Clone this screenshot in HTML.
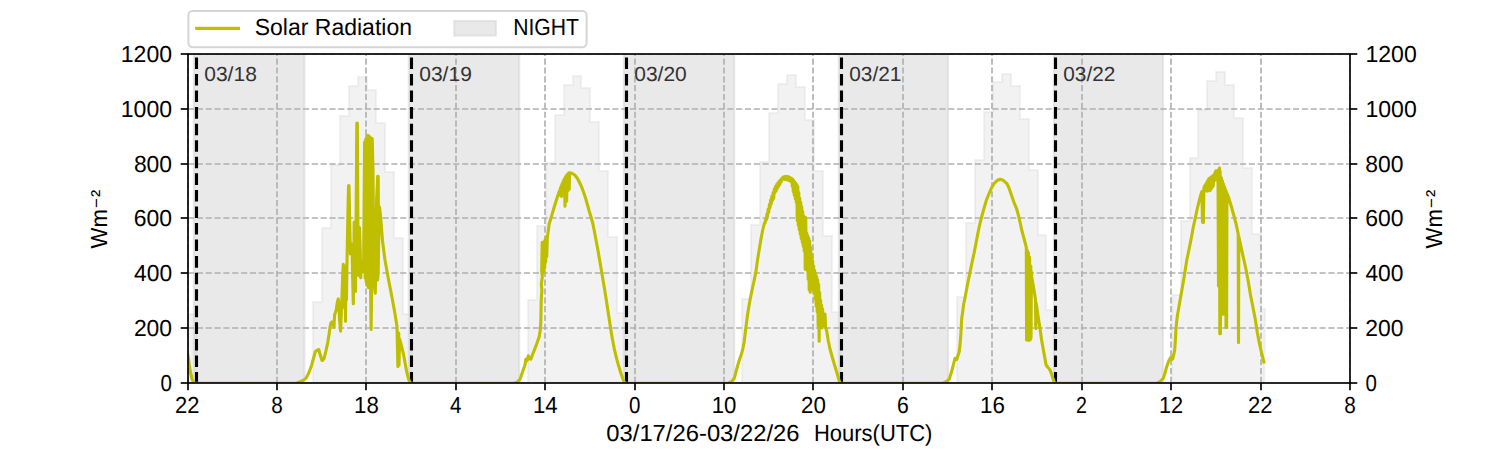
<!DOCTYPE html>
<html lang="en"><head><meta charset="utf-8"><title>Solar Radiation</title>
<style>html,body{margin:0;padding:0;background:#fff;}body{width:1500px;height:450px;overflow:hidden;font-family:"Liberation Sans",sans-serif;}svg{display:block;}</style></head>
<body>
<svg width="1500" height="450" viewBox="0 0 1500 450" font-family="'Liberation Sans', sans-serif" text-rendering="geometricPrecision">
<rect x="0" y="0" width="1500" height="450" fill="#fff"/>
<clipPath id="ax"><rect x="187.5" y="54.0" width="1162.5" height="328.5"/></clipPath>
<g clip-path="url(#ax)">
<path d="M187.50,382.50 L188.00,314.00 L197.00,314.00 L197.00,383.00 L206.00,383.00 L206.00,383.00 L215.00,383.00 L215.00,383.00 L224.00,383.00 L224.00,383.00 L233.00,383.00 L233.00,383.00 L242.00,383.00 L242.00,383.00 L251.00,383.00 L251.00,383.00 L260.00,383.00 L260.00,383.00 L268.00,383.00 L268.00,383.00 L277.00,383.00 L277.00,383.00 L286.00,383.00 L286.00,383.00 L295.00,383.00 L295.00,383.00 L304.00,383.00 L304.00,383.00 L313.00,383.00 L313.00,302.00 L322.00,302.00 L322.00,228.00 L331.00,228.00 L331.00,165.00 L340.00,165.00 L340.00,116.00 L349.00,116.00 L349.00,86.00 L358.00,86.00 L358.00,77.00 L367.00,77.00 L367.00,90.00 L376.00,90.00 L376.00,123.00 L385.00,123.00 L385.00,172.00 L394.00,172.00 L394.00,238.00 L403.00,238.00 L403.00,314.00 L412.00,314.00 L412.00,383.00 L420.00,383.00 L420.00,383.00 L429.00,383.00 L429.00,383.00 L438.00,383.00 L438.00,383.00 L447.00,383.00 L447.00,383.00 L456.00,383.00 L456.00,383.00 L465.00,383.00 L465.00,383.00 L474.00,383.00 L474.00,383.00 L483.00,383.00 L483.00,383.00 L492.00,383.00 L492.00,383.00 L501.00,383.00 L501.00,383.00 L510.00,383.00 L510.00,383.00 L519.00,383.00 L519.00,383.00 L528.00,383.00 L528.00,300.00 L537.00,300.00 L537.00,226.00 L546.00,226.00 L546.00,163.00 L555.00,163.00 L555.00,115.00 L564.00,115.00 L564.00,85.00 L573.00,85.00 L573.00,76.00 L581.00,76.00 L581.00,88.00 L590.00,88.00 L590.00,122.00 L599.00,122.00 L599.00,171.00 L608.00,171.00 L608.00,237.00 L617.00,237.00 L617.00,313.00 L626.00,313.00 L626.00,383.00 L635.00,383.00 L635.00,383.00 L644.00,383.00 L644.00,383.00 L653.00,383.00 L653.00,383.00 L662.00,383.00 L662.00,383.00 L671.00,383.00 L671.00,383.00 L680.00,383.00 L680.00,383.00 L689.00,383.00 L689.00,383.00 L698.00,383.00 L698.00,383.00 L707.00,383.00 L707.00,383.00 L716.00,383.00 L716.00,383.00 L725.00,383.00 L725.00,383.00 L733.00,383.00 L733.00,383.00 L742.00,383.00 L742.00,299.00 L751.00,299.00 L751.00,225.00 L760.00,225.00 L760.00,162.00 L769.00,162.00 L769.00,113.00 L778.00,113.00 L778.00,84.00 L787.00,84.00 L787.00,75.00 L796.00,75.00 L796.00,87.00 L805.00,87.00 L805.00,120.00 L814.00,120.00 L814.00,171.00 L823.00,171.00 L823.00,236.00 L832.00,236.00 L832.00,312.00 L841.00,312.00 L841.00,383.00 L850.00,383.00 L850.00,383.00 L859.00,383.00 L859.00,383.00 L868.00,383.00 L868.00,383.00 L877.00,383.00 L877.00,383.00 L886.00,383.00 L886.00,383.00 L894.00,383.00 L894.00,383.00 L903.00,383.00 L903.00,383.00 L912.00,383.00 L912.00,383.00 L921.00,383.00 L921.00,383.00 L930.00,383.00 L930.00,383.00 L939.00,383.00 L939.00,383.00 L948.00,383.00 L948.00,383.00 L957.00,383.00 L957.00,297.00 L966.00,297.00 L966.00,223.00 L975.00,223.00 L975.00,160.00 L984.00,160.00 L984.00,112.00 L993.00,112.00 L993.00,82.00 L1002.00,82.00 L1002.00,74.00 L1011.00,74.00 L1011.00,86.00 L1020.00,86.00 L1020.00,119.00 L1029.00,119.00 L1029.00,170.00 L1038.00,170.00 L1038.00,235.00 L1046.00,235.00 L1046.00,310.00 L1055.00,310.00 L1055.00,383.00 L1064.00,383.00 L1064.00,383.00 L1073.00,383.00 L1073.00,383.00 L1082.00,383.00 L1082.00,383.00 L1091.00,383.00 L1091.00,383.00 L1100.00,383.00 L1100.00,383.00 L1109.00,383.00 L1109.00,383.00 L1118.00,383.00 L1118.00,383.00 L1127.00,383.00 L1127.00,383.00 L1136.00,383.00 L1136.00,383.00 L1145.00,383.00 L1145.00,383.00 L1154.00,383.00 L1154.00,383.00 L1163.00,383.00 L1163.00,383.00 L1172.00,383.00 L1172.00,295.00 L1181.00,295.00 L1181.00,221.00 L1190.00,221.00 L1190.00,158.00 L1198.00,158.00 L1198.00,110.00 L1207.00,110.00 L1207.00,81.00 L1216.00,81.00 L1216.00,72.00 L1225.00,72.00 L1225.00,85.00 L1234.00,85.00 L1234.00,118.00 L1243.00,118.00 L1243.00,168.00 L1252.00,168.00 L1252.00,234.00 L1261.00,234.00 L1261.00,309.00 L1265.00,309.00 L1264.20,382.50Z" fill="#d3d3d3" fill-opacity="0.3" stroke="#d3d3d3" stroke-opacity="0.3" stroke-width="2.08" stroke-linejoin="miter"/>
<rect x="193.80" y="49.0" width="110.60" height="338.5" fill="#d3d3d3" fill-opacity="0.5" stroke="#d3d3d3" stroke-opacity="0.5" stroke-width="2.08"/>
<rect x="408.80" y="49.0" width="110.40" height="338.5" fill="#d3d3d3" fill-opacity="0.5" stroke="#d3d3d3" stroke-opacity="0.5" stroke-width="2.08"/>
<rect x="623.80" y="49.0" width="110.40" height="338.5" fill="#d3d3d3" fill-opacity="0.5" stroke="#d3d3d3" stroke-opacity="0.5" stroke-width="2.08"/>
<rect x="838.80" y="49.0" width="109.20" height="338.5" fill="#d3d3d3" fill-opacity="0.5" stroke="#d3d3d3" stroke-opacity="0.5" stroke-width="2.08"/>
<rect x="1053.80" y="49.0" width="109.20" height="338.5" fill="#d3d3d3" fill-opacity="0.5" stroke="#d3d3d3" stroke-opacity="0.5" stroke-width="2.08"/>
<line x1="188.00" y1="383.0" x2="188.00" y2="54.0" stroke="#b0b0b0" stroke-width="1.67" stroke-dasharray="6.17 2.67"/>
<line x1="277.00" y1="383.0" x2="277.00" y2="54.0" stroke="#b0b0b0" stroke-width="1.67" stroke-dasharray="6.17 2.67"/>
<line x1="366.00" y1="383.0" x2="366.00" y2="54.0" stroke="#b0b0b0" stroke-width="1.67" stroke-dasharray="6.17 2.67"/>
<line x1="456.00" y1="383.0" x2="456.00" y2="54.0" stroke="#b0b0b0" stroke-width="1.67" stroke-dasharray="6.17 2.67"/>
<line x1="545.00" y1="383.0" x2="545.00" y2="54.0" stroke="#b0b0b0" stroke-width="1.67" stroke-dasharray="6.17 2.67"/>
<line x1="635.00" y1="383.0" x2="635.00" y2="54.0" stroke="#b0b0b0" stroke-width="1.67" stroke-dasharray="6.17 2.67"/>
<line x1="724.00" y1="383.0" x2="724.00" y2="54.0" stroke="#b0b0b0" stroke-width="1.67" stroke-dasharray="6.17 2.67"/>
<line x1="813.00" y1="383.0" x2="813.00" y2="54.0" stroke="#b0b0b0" stroke-width="1.67" stroke-dasharray="6.17 2.67"/>
<line x1="903.00" y1="383.0" x2="903.00" y2="54.0" stroke="#b0b0b0" stroke-width="1.67" stroke-dasharray="6.17 2.67"/>
<line x1="992.00" y1="383.0" x2="992.00" y2="54.0" stroke="#b0b0b0" stroke-width="1.67" stroke-dasharray="6.17 2.67"/>
<line x1="1082.00" y1="383.0" x2="1082.00" y2="54.0" stroke="#b0b0b0" stroke-width="1.67" stroke-dasharray="6.17 2.67"/>
<line x1="1171.00" y1="383.0" x2="1171.00" y2="54.0" stroke="#b0b0b0" stroke-width="1.67" stroke-dasharray="6.17 2.67"/>
<line x1="1261.00" y1="383.0" x2="1261.00" y2="54.0" stroke="#b0b0b0" stroke-width="1.67" stroke-dasharray="6.17 2.67"/>
<line x1="1350.00" y1="383.0" x2="1350.00" y2="54.0" stroke="#b0b0b0" stroke-width="1.67" stroke-dasharray="6.17 2.67"/>
<line x1="188.0" y1="383.00" x2="1350.0" y2="383.00" stroke="#b0b0b0" stroke-width="1.67" stroke-dasharray="6.17 2.67"/>
<line x1="188.0" y1="328.00" x2="1350.0" y2="328.00" stroke="#b0b0b0" stroke-width="1.67" stroke-dasharray="6.17 2.67"/>
<line x1="188.0" y1="273.00" x2="1350.0" y2="273.00" stroke="#b0b0b0" stroke-width="1.67" stroke-dasharray="6.17 2.67"/>
<line x1="188.0" y1="218.00" x2="1350.0" y2="218.00" stroke="#b0b0b0" stroke-width="1.67" stroke-dasharray="6.17 2.67"/>
<line x1="188.0" y1="164.00" x2="1350.0" y2="164.00" stroke="#b0b0b0" stroke-width="1.67" stroke-dasharray="6.17 2.67"/>
<line x1="188.0" y1="109.00" x2="1350.0" y2="109.00" stroke="#b0b0b0" stroke-width="1.67" stroke-dasharray="6.17 2.67"/>
<line x1="188.0" y1="54.00" x2="1350.0" y2="54.00" stroke="#b0b0b0" stroke-width="1.67" stroke-dasharray="6.17 2.67"/>
<line x1="196.50" y1="383.6" x2="196.50" y2="54.0" stroke="#000" stroke-width="3.12" stroke-dasharray="11.56 5.00"/>
<line x1="411.50" y1="383.6" x2="411.50" y2="54.0" stroke="#000" stroke-width="3.12" stroke-dasharray="11.56 5.00"/>
<line x1="626.50" y1="383.6" x2="626.50" y2="54.0" stroke="#000" stroke-width="3.12" stroke-dasharray="11.56 5.00"/>
<line x1="841.50" y1="383.6" x2="841.50" y2="54.0" stroke="#000" stroke-width="3.12" stroke-dasharray="11.56 5.00"/>
<line x1="1055.50" y1="383.6" x2="1055.50" y2="54.0" stroke="#000" stroke-width="3.12" stroke-dasharray="11.56 5.00"/>
<path d="M187.50,353.30 L188.50,359.00 L189.50,366.00 L190.70,373.50 L192.20,379.50 L194.40,383.20 L296.00,383.20 L300.00,381.70 L303.00,380.50 L306.00,378.30 L308.70,373.00 L311.30,366.30 L313.30,359.00 L315.30,351.70 L317.00,350.30 L318.70,349.50 L320.30,355.00 L322.00,360.50 L323.00,360.00 L324.10,358.30 L325.90,351.00 L327.80,342.30 L329.10,334.00 L330.10,326.50 L331.00,322.80 L332.30,321.80 L333.20,323.00 L334.00,327.20 L334.30,320.00 L334.70,314.50 L335.40,312.50 L336.20,310.00 L336.90,305.00 L337.60,301.00 L338.30,298.90 L338.90,306.00 L339.60,320.00 L340.60,331.20 L341.20,316.00 L342.00,296.00 L342.70,275.00 L343.30,264.20 L343.70,298.00 L344.10,265.50 L344.60,308.00 L345.00,266.50 L345.50,321.20 L346.00,267.00 L346.40,300.00 L346.90,268.00 L347.50,235.00 L348.20,200.00 L348.60,185.60 L349.00,185.60 L349.40,205.00 L349.90,232.00 L350.40,254.00 L351.20,250.00 L352.00,244.00 L352.60,275.00 L353.30,303.80 L353.80,270.00 L354.20,222.00 L354.80,262.00 L355.50,291.50 L356.00,230.00 L356.50,170.00 L356.80,123.00 L357.30,123.00 L357.60,170.00 L358.00,240.00 L358.70,275.50 L359.10,240.00 L359.50,227.50 L360.20,250.00 L360.70,277.80 L361.60,262.00 L362.70,272.00 L363.60,268.00 L364.60,142.00 L365.14,278.06 L365.69,139.15 L366.23,281.70 L366.77,136.22 L367.31,285.44 L367.86,135.24 L368.40,287.59 L368.94,136.10 L369.49,287.03 L370.03,136.97 L370.57,286.56 L371.11,329.50 L371.66,287.55 L372.20,138.58 L373.00,170.80 L373.50,235.00 L374.40,283.00 L375.30,293.20 L375.90,250.00 L376.60,200.00 L377.70,176.20 L378.20,176.20 L378.40,215.00 L377.60,280.00 L378.20,272.00 L378.90,225.00 L379.50,207.00 L380.20,213.00 L381.00,222.00 L382.50,241.00 L385.00,260.00 L388.00,277.00 L391.50,294.70 L394.50,311.00 L397.00,326.50 L397.50,350.00 L397.90,366.50 L398.30,345.00 L398.70,333.00 L399.00,365.00 L399.60,339.00 L401.50,346.00 L403.30,353.30 L405.00,362.50 L406.70,371.70 L408.00,377.00 L409.20,380.80 L410.50,383.20 L514.00,383.20 L517.50,381.90 L520.00,379.20 L522.50,372.00 L525.00,365.00 L525.80,359.20 L526.70,361.00 L527.50,360.00 L528.30,355.80 L529.50,358.50 L530.80,359.20 L533.00,353.30 L535.00,348.30 L537.00,343.00 L539.20,336.70 L540.30,330.00 L540.80,322.00 L541.00,312.00 L541.20,300.00 L541.90,290.00 L541.30,284.00 L542.30,277.00 L541.70,271.00 L542.20,242.30 L542.70,274.00 L543.20,243.00 L543.70,272.00 L544.20,241.50 L544.70,268.00 L545.20,239.50 L545.70,262.00 L546.20,237.00 L546.70,256.80 L547.30,238.00 L548.20,231.00 L549.20,223.80 L550.70,219.00 L552.20,213.90 L553.70,208.80 L555.00,204.50 L556.50,199.70 L558.00,195.00 L559.20,191.50 L559.50,190.75 L559.92,193.85 L560.34,188.37 L560.76,195.73 L561.18,186.06 L561.60,196.49 L562.02,184.04 L562.45,191.03 L562.87,182.02 L563.29,191.49 L563.71,180.11 L564.13,191.96 L564.55,178.53 L564.97,206.25 L565.39,176.94 L565.81,199.46 L566.23,175.55 L566.65,201.14 L567.08,174.65 L567.50,191.19 L567.92,173.75 L568.34,190.32 L568.76,172.85 L569.18,189.44 L569.60,172.84 L570.30,172.90 L572.00,173.30 L575.00,175.20 L577.50,178.50 L580.00,183.50 L581.70,187.20 L583.50,192.00 L585.60,198.30 L587.50,205.00 L589.40,211.70 L591.00,217.00 L592.80,223.50 L594.40,231.50 L596.00,240.00 L597.70,249.00 L599.20,257.50 L601.50,271.00 L603.70,284.00 L605.80,296.70 L607.50,308.00 L609.10,318.30 L610.80,329.50 L612.40,339.00 L614.20,348.30 L616.20,357.00 L618.40,365.00 L620.80,373.00 L623.60,380.80 L625.00,383.20 L728.00,383.20 L731.70,381.50 L734.20,378.30 L736.20,371.00 L738.30,363.30 L740.00,358.00 L741.70,353.30 L743.00,348.00 L744.20,341.70 L745.80,328.30 L747.50,315.00 L748.30,310.00 L750.00,300.00 L751.70,291.70 L753.80,282.00 L755.80,272.50 L757.50,260.00 L758.30,255.00 L760.80,240.00 L762.50,231.00 L764.20,223.80 L764.50,222.83 L765.11,222.98 L765.72,218.90 L766.33,219.93 L766.94,214.19 L767.55,216.01 L768.16,209.27 L768.77,212.08 L769.39,204.52 L770.00,207.68 L770.61,199.98 L771.22,203.88 L771.83,196.20 L772.44,200.68 L773.05,192.54 L773.66,198.52 L774.27,189.18 L774.88,192.63 L775.49,186.62 L776.10,191.02 L776.71,184.50 L777.33,188.44 L777.94,182.88 L778.55,186.43 L779.16,181.41 L779.77,184.51 L780.38,180.04 L780.99,182.29 L781.60,178.71 L782.00,178.07 L782.67,179.00 L783.34,177.16 L784.01,179.15 L784.69,176.63 L785.36,179.39 L786.03,176.45 L786.70,179.73 L787.37,176.49 L788.04,180.06 L788.71,176.83 L789.39,180.56 L790.06,177.49 L790.73,181.48 L791.40,178.24 L791.80,178.49 L792.30,186.29 L792.79,179.42 L793.29,191.65 L793.79,180.68 L794.28,195.18 L794.78,181.94 L795.28,198.69 L795.78,183.19 L796.27,202.20 L796.77,184.45 L797.27,220.38 L797.76,186.45 L798.26,225.31 L798.76,192.23 L799.25,229.77 L799.75,198.02 L800.25,234.23 L800.75,202.35 L801.24,238.43 L801.74,206.60 L802.24,242.32 L802.73,211.42 L803.23,246.21 L803.73,216.00 L804.22,251.03 L804.72,217.10 L805.22,269.23 L805.72,217.57 L806.21,264.85 L806.71,232.81 L807.21,270.37 L807.70,235.49 L808.20,279.30 L808.70,238.18 L809.19,289.68 L809.69,240.86 L810.19,292.12 L810.68,247.39 L811.18,284.45 L811.68,255.42 L812.18,286.92 L812.67,260.71 L813.17,289.39 L813.67,265.99 L814.16,292.15 L814.66,270.26 L815.16,299.10 L815.65,273.59 L816.15,305.90 L816.65,276.64 L817.15,311.79 L817.64,279.68 L818.14,325.70 L818.64,284.39 L819.13,341.21 L819.63,292.34 L820.13,326.12 L820.62,300.29 L821.12,327.07 L821.62,304.97 L822.12,328.03 L822.61,308.95 L823.11,326.51 L823.61,314.69 L824.10,324.01 L824.60,324.39 L825.00,314.00 L825.60,327.00 L826.70,331.00 L828.30,341.00 L830.00,349.00 L832.50,358.00 L835.00,366.50 L837.00,373.00 L839.20,380.80 L840.30,383.20 L943.00,383.20 L946.70,381.50 L949.20,379.20 L950.80,374.00 L952.50,368.30 L953.80,363.00 L955.00,358.30 L955.80,358.80 L956.70,359.50 L957.80,356.00 L959.20,351.70 L960.00,345.00 L960.80,335.00 L961.70,318.50 L962.50,313.00 L963.70,304.00 L965.20,296.70 L967.40,285.00 L969.80,273.30 L971.90,263.00 L974.00,253.50 L976.60,240.00 L978.30,231.00 L980.00,223.30 L982.00,215.50 L984.00,208.30 L986.40,200.00 L988.70,194.50 L991.20,188.50 L994.20,183.30 L997.00,180.50 L1000.00,179.20 L1003.30,180.30 L1006.70,183.30 L1008.80,187.50 L1010.80,193.30 L1014.20,203.00 L1016.70,209.00 L1018.60,216.00 L1020.30,223.30 L1021.70,230.00 L1024.00,238.50 L1026.30,247.30 L1026.60,340.00 L1027.20,250.00 L1027.80,340.20 L1028.40,252.50 L1029.00,340.20 L1029.60,257.00 L1030.20,340.00 L1030.80,266.00 L1031.00,338.00 L1031.40,272.00 L1031.70,276.70 L1033.30,286.00 L1034.40,292.50 L1035.50,299.50 L1035.80,328.50 L1036.10,303.00 L1036.80,307.50 L1038.40,318.30 L1040.10,329.00 L1041.60,340.00 L1043.30,349.50 L1045.00,358.90 L1046.10,365.00 L1047.80,367.30 L1049.40,369.00 L1050.60,371.50 L1051.70,374.40 L1052.80,378.00 L1053.90,381.10 L1054.80,383.20 L1157.00,383.20 L1160.00,381.50 L1163.30,378.30 L1165.00,373.00 L1166.70,366.70 L1168.00,363.00 L1169.20,360.00 L1170.80,357.30 L1171.80,359.50 L1172.60,359.00 L1173.70,355.00 L1174.70,350.00 L1175.30,341.00 L1175.80,331.70 L1176.60,322.00 L1177.50,315.00 L1179.60,303.00 L1181.70,291.00 L1184.10,277.00 L1186.70,260.50 L1189.20,248.50 L1191.40,237.50 L1193.30,227.00 L1195.20,218.50 L1197.20,209.00 L1199.10,201.00 L1200.90,194.50 L1201.90,191.50 L1202.50,222.30 L1202.90,203.00 L1203.40,222.50 L1203.90,188.00 L1204.60,186.00 L1204.90,185.53 L1205.30,189.55 L1205.70,184.26 L1206.10,190.43 L1206.50,183.00 L1206.90,191.11 L1207.30,181.53 L1207.70,189.75 L1208.10,180.06 L1208.50,188.92 L1208.90,178.58 L1209.30,190.58 L1209.70,178.12 L1210.10,190.41 L1210.50,177.80 L1210.90,189.16 L1211.30,176.96 L1211.70,188.07 L1212.10,176.12 L1212.50,187.00 L1212.90,175.51 L1213.30,185.67 L1213.70,175.29 L1214.10,180.69 L1214.50,173.86 L1214.90,179.92 L1215.30,171.71 L1215.70,179.82 L1216.10,170.84 L1216.50,179.72 L1216.90,170.75 L1217.30,170.70 L1218.00,170.60 L1218.50,286.00 L1218.90,169.50 L1219.50,168.00 L1219.80,333.70 L1220.10,171.00 L1220.40,333.70 L1220.70,176.50 L1221.00,286.00 L1221.50,178.00 L1222.00,314.00 L1222.50,181.00 L1223.00,314.30 L1223.60,184.00 L1224.10,314.00 L1224.70,187.00 L1225.20,305.00 L1225.70,189.70 L1226.00,327.50 L1226.30,191.50 L1226.60,327.00 L1226.90,193.20 L1227.60,195.20 L1228.50,197.30 L1231.50,207.00 L1233.70,215.00 L1236.20,224.50 L1237.90,232.50 L1238.20,234.00 L1238.50,342.60 L1238.80,236.50 L1240.80,246.10 L1243.70,259.00 L1246.10,270.00 L1248.30,281.70 L1250.50,295.00 L1253.00,307.50 L1255.30,319.50 L1257.40,333.00 L1259.50,344.00 L1261.70,353.30 L1264.20,363.50" fill="none" stroke="#bfbf00" stroke-width="3.12" stroke-linejoin="round" stroke-linecap="butt"/>
</g>
<text x="204.27" y="81.00" font-size="20.35" textLength="52.55" lengthAdjust="spacingAndGlyphs" fill="#333">03/18</text>
<text x="419.26" y="81.00" font-size="20.35" textLength="52.60" lengthAdjust="spacingAndGlyphs" fill="#333">03/19</text>
<text x="634.27" y="81.00" font-size="20.35" textLength="52.49" lengthAdjust="spacingAndGlyphs" fill="#333">03/20</text>
<text x="849.27" y="81.00" font-size="20.35" textLength="52.20" lengthAdjust="spacingAndGlyphs" fill="#333">03/21</text>
<text x="1063.27" y="81.00" font-size="20.35" textLength="52.08" lengthAdjust="spacingAndGlyphs" fill="#333">03/22</text>
<rect x="188.0" y="54.0" width="1162.0" height="329.0" fill="none" stroke="#000" stroke-width="1.67"/>
<line x1="188.00" y1="383.0" x2="188.00" y2="390.29" stroke="#000" stroke-width="1.67"/>
<text x="175.02" y="413.00" font-size="23.26" textLength="24.41" lengthAdjust="spacingAndGlyphs" fill="#000">22</text>
<line x1="277.00" y1="383.0" x2="277.00" y2="390.29" stroke="#000" stroke-width="1.67"/>
<text x="271.16" y="413.00" font-size="23.26" textLength="11.52" lengthAdjust="spacingAndGlyphs" fill="#000">8</text>
<line x1="366.00" y1="383.0" x2="366.00" y2="390.29" stroke="#000" stroke-width="1.67"/>
<text x="354.03" y="413.00" font-size="23.26" textLength="24.76" lengthAdjust="spacingAndGlyphs" fill="#000">18</text>
<line x1="456.00" y1="383.0" x2="456.00" y2="390.29" stroke="#000" stroke-width="1.67"/>
<text x="450.04" y="413.00" font-size="23.26" textLength="11.44" lengthAdjust="spacingAndGlyphs" fill="#000">4</text>
<line x1="545.00" y1="383.0" x2="545.00" y2="390.29" stroke="#000" stroke-width="1.67"/>
<text x="532.89" y="413.00" font-size="23.26" textLength="24.69" lengthAdjust="spacingAndGlyphs" fill="#000">14</text>
<line x1="635.00" y1="383.0" x2="635.00" y2="390.29" stroke="#000" stroke-width="1.67"/>
<text x="628.91" y="413.00" font-size="23.26" textLength="11.40" lengthAdjust="spacingAndGlyphs" fill="#000">0</text>
<line x1="724.00" y1="383.0" x2="724.00" y2="390.29" stroke="#000" stroke-width="1.67"/>
<text x="711.73" y="413.00" font-size="23.26" textLength="24.70" lengthAdjust="spacingAndGlyphs" fill="#000">10</text>
<line x1="813.00" y1="383.0" x2="813.00" y2="390.29" stroke="#000" stroke-width="1.67"/>
<text x="800.96" y="413.00" font-size="23.26" textLength="24.90" lengthAdjust="spacingAndGlyphs" fill="#000">20</text>
<line x1="903.00" y1="383.0" x2="903.00" y2="390.29" stroke="#000" stroke-width="1.67"/>
<text x="896.98" y="413.00" font-size="23.26" textLength="11.80" lengthAdjust="spacingAndGlyphs" fill="#000">6</text>
<line x1="992.00" y1="383.0" x2="992.00" y2="390.29" stroke="#000" stroke-width="1.67"/>
<text x="979.99" y="413.00" font-size="23.26" textLength="24.90" lengthAdjust="spacingAndGlyphs" fill="#000">16</text>
<line x1="1082.00" y1="383.0" x2="1082.00" y2="390.29" stroke="#000" stroke-width="1.67"/>
<text x="1075.99" y="413.00" font-size="23.26" textLength="10.92" lengthAdjust="spacingAndGlyphs" fill="#000">2</text>
<line x1="1171.00" y1="383.0" x2="1171.00" y2="390.29" stroke="#000" stroke-width="1.67"/>
<text x="1158.88" y="413.00" font-size="23.26" textLength="24.19" lengthAdjust="spacingAndGlyphs" fill="#000">12</text>
<line x1="1261.00" y1="383.0" x2="1261.00" y2="390.29" stroke="#000" stroke-width="1.67"/>
<text x="1248.09" y="413.00" font-size="23.26" textLength="24.41" lengthAdjust="spacingAndGlyphs" fill="#000">22</text>
<line x1="1350.00" y1="383.0" x2="1350.00" y2="390.29" stroke="#000" stroke-width="1.67"/>
<text x="1344.24" y="413.00" font-size="23.26" textLength="11.52" lengthAdjust="spacingAndGlyphs" fill="#000">8</text>
<line x1="180.71" y1="383.00" x2="188.0" y2="383.00" stroke="#000" stroke-width="1.67"/>
<line x1="1350.0" y1="383.00" x2="1357.29" y2="383.00" stroke="#000" stroke-width="1.67"/>
<text x="160.58" y="391.00" font-size="23.26" textLength="11.40" lengthAdjust="spacingAndGlyphs" fill="#000">0</text>
<text x="1365.51" y="391.00" font-size="23.26" textLength="11.40" lengthAdjust="spacingAndGlyphs" fill="#000">0</text>
<line x1="180.71" y1="328.00" x2="188.0" y2="328.00" stroke="#000" stroke-width="1.67"/>
<line x1="1350.0" y1="328.00" x2="1357.29" y2="328.00" stroke="#000" stroke-width="1.67"/>
<text x="133.88" y="336.00" font-size="23.26" textLength="38.20" lengthAdjust="spacingAndGlyphs" fill="#000">200</text>
<text x="1365.31" y="336.00" font-size="23.26" textLength="38.20" lengthAdjust="spacingAndGlyphs" fill="#000">200</text>
<line x1="180.71" y1="273.00" x2="188.0" y2="273.00" stroke="#000" stroke-width="1.67"/>
<line x1="1350.0" y1="273.00" x2="1357.29" y2="273.00" stroke="#000" stroke-width="1.67"/>
<text x="134.00" y="281.00" font-size="23.26" textLength="38.08" lengthAdjust="spacingAndGlyphs" fill="#000">400</text>
<text x="1365.43" y="281.00" font-size="23.26" textLength="38.08" lengthAdjust="spacingAndGlyphs" fill="#000">400</text>
<line x1="180.71" y1="218.00" x2="188.0" y2="218.00" stroke="#000" stroke-width="1.67"/>
<line x1="1350.0" y1="218.00" x2="1357.29" y2="218.00" stroke="#000" stroke-width="1.67"/>
<text x="133.79" y="226.00" font-size="23.26" textLength="38.29" lengthAdjust="spacingAndGlyphs" fill="#000">600</text>
<text x="1365.22" y="226.00" font-size="23.26" textLength="38.29" lengthAdjust="spacingAndGlyphs" fill="#000">600</text>
<line x1="180.71" y1="164.00" x2="188.0" y2="164.00" stroke="#000" stroke-width="1.67"/>
<line x1="1350.0" y1="164.00" x2="1357.29" y2="164.00" stroke="#000" stroke-width="1.67"/>
<text x="133.92" y="172.00" font-size="23.26" textLength="38.15" lengthAdjust="spacingAndGlyphs" fill="#000">800</text>
<text x="1365.35" y="172.00" font-size="23.26" textLength="38.15" lengthAdjust="spacingAndGlyphs" fill="#000">800</text>
<line x1="180.71" y1="109.00" x2="188.0" y2="109.00" stroke="#000" stroke-width="1.67"/>
<line x1="1350.0" y1="109.00" x2="1357.29" y2="109.00" stroke="#000" stroke-width="1.67"/>
<text x="120.78" y="117.00" font-size="23.26" textLength="51.30" lengthAdjust="spacingAndGlyphs" fill="#000">1000</text>
<text x="1365.47" y="117.00" font-size="23.26" textLength="51.30" lengthAdjust="spacingAndGlyphs" fill="#000">1000</text>
<line x1="180.71" y1="54.00" x2="188.0" y2="54.00" stroke="#000" stroke-width="1.67"/>
<line x1="1350.0" y1="54.00" x2="1357.29" y2="54.00" stroke="#000" stroke-width="1.67"/>
<text x="120.78" y="62.00" font-size="23.26" textLength="51.30" lengthAdjust="spacingAndGlyphs" fill="#000">1200</text>
<text x="1365.47" y="62.00" font-size="23.26" textLength="51.30" lengthAdjust="spacingAndGlyphs" fill="#000">1200</text>
<text x="606.30" y="441.00" font-size="23.26" textLength="193.24" lengthAdjust="spacingAndGlyphs" fill="#000">03/17/26-03/22/26</text>
<text x="813.99" y="441.00" font-size="23.26" textLength="118.44" lengthAdjust="spacingAndGlyphs" fill="#000">Hours(UTC)</text>
<g transform="translate(107.40 249.40) rotate(-90)">
<text x="0.94" y="0.00" font-size="23.26" textLength="39.29" lengthAdjust="spacingAndGlyphs" fill="#000">Wm</text>
<text x="41.50" y="-5.10" font-size="16.90">−</text>
<text x="52.40" y="-1.30" font-size="21.60">²</text>
</g>
<g transform="translate(1442.00 249.40) rotate(-90)">
<text x="0.94" y="0.00" font-size="23.26" textLength="39.29" lengthAdjust="spacingAndGlyphs" fill="#000">Wm</text>
<text x="41.50" y="-5.10" font-size="16.90">−</text>
<text x="52.40" y="-1.30" font-size="21.60">²</text>
</g>
<rect x="188.4" y="11.0" width="398.20" height="36.30" rx="4.2" ry="4.2" fill="#fff" fill-opacity="0.8" stroke="#ccc" stroke-opacity="0.8" stroke-width="2.08"/>
<line x1="195.2" y1="28.4" x2="240.0" y2="28.4" stroke="#bfbf00" stroke-width="3.12"/>
<text x="254.68" y="35.00" font-size="23.26" textLength="157.34" lengthAdjust="spacingAndGlyphs" fill="#000">Solar Radiation</text>
<rect x="454.2" y="21.0" width="41.7" height="14.6" fill="#d3d3d3" fill-opacity="0.5" stroke="#d3d3d3" stroke-opacity="0.5" stroke-width="2.08"/>
<text x="513.16" y="35.00" font-size="23.26" textLength="65.80" lengthAdjust="spacingAndGlyphs" fill="#000">NIGHT</text>
</svg>
</body></html>
